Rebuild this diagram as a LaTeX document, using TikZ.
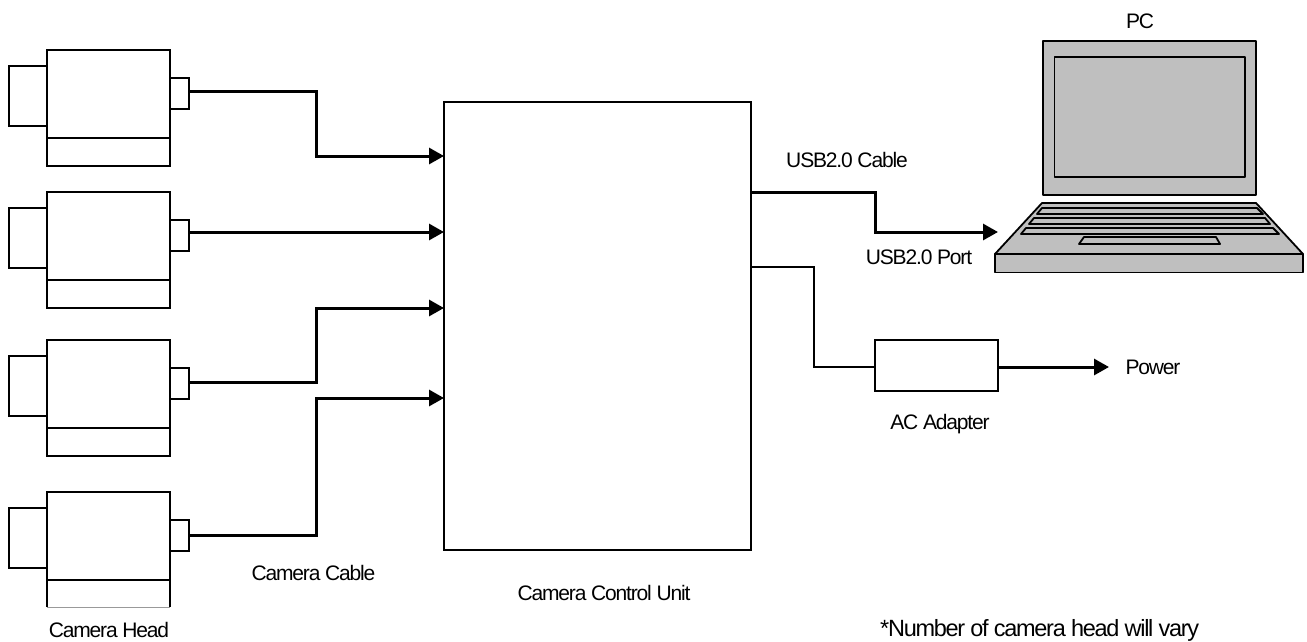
\documentclass[tikz,border=0pt]{standalone}
\usepackage{fontspec}
\setmainfont[LetterSpace=-5.5]{Liberation Sans}
\usetikzlibrary{arrows.meta}
\definecolor{lapgray}{HTML}{BFBFBF}
\tikzset{
	box/.style={draw=black, line width=2.2pt, fill=white, inner sep=0, outer sep=0},
	cable/.style={line width=3pt, black, -{Triangle[length=15pt,width=16pt]}},
	wire/.style={line width=2.2pt, black},
	lap/.style={draw=black, line width=1.8pt, fill=lapgray, line join=round},
	lbl/.style={font=\fontsize{21}{24}\selectfont, inner sep=0},
	notelbl/.style={font=\fontsize{23.5}{26}\selectfont, inner sep=0},
}
\begin{document}
\begin{tikzpicture}[x=1pt,y=-1pt]
	\useasboundingbox (0,0) rectangle (1307,641);
	% camera heads
	\foreach \n/\y in {1/50,2/192,3/340,4/492}{
		\begin{scope}[shift={(0,\y)}]
			\node[box, minimum width=38, minimum height=60] (lens\n) at (28,46) {};
			\node[box, minimum width=19, minimum height=31] (plug\n) at (179.5,43.5) {};
			\node[box, minimum width=123, minimum height=88] (body\n) at (108.5,44) {};
		\end{scope}
	}
	\foreach \n in {1,2,3}{
		\draw[line width=2.2pt] (body\n.south west) -- ++(0,28) -- ++(123,0) -- (body\n.south east);
	}
	\coordinate (foot4a) at (47,607);
	\coordinate (foot4b) at (170,607);
	\draw[line width=2.2pt] (body4.south west) -- (foot4a);
	\draw[line width=2.2pt] (body4.south east) -- (foot4b);
	\draw[line width=.7pt, black!40] (foot4a) -- (foot4b);
	% control unit
	\node[box, minimum width=307, minimum height=448] (unit) at (597.5,326) {};
	\coordinate (out1) at (189,91);
	\coordinate (out2) at (189,232);
	\coordinate (out3) at (189,382);
	\coordinate (out4) at (189,535);
	\coordinate (in1) at (444,156);
	\coordinate (in2) at (444,232);
	\coordinate (in3) at (444,308);
	\coordinate (in4) at (444,398);
	\draw[cable] (out1) -| (316,156) -- (in1);
	\draw[cable] (out2) -- (in2);
	\draw[cable] (out3) -| (316,308) -- (in3);
	\draw[cable] (out4) -| (316,398) -- (in4);
	% laptop
	\draw[lap] (1043,41) rectangle (1256,195);
	\draw[lap] (1054.5,57) rectangle (1245,177);
	\draw[lap] (1042,203) -- (1256,203) -- (1303,254) -- (995,254) -- cycle;
	\draw[lap] (995,254) rectangle (1303,272.5);
	\draw[lap] (1042,208) -- (1257,208) -- (1263,214) -- (1037,214) -- cycle;
	\draw[lap] (1034,218) -- (1265,218) -- (1270,224) -- (1029,224) -- cycle;
	\draw[lap] (1026,228) -- (1273,228) -- (1279,234) -- (1021,234) -- cycle;
	\draw[lap] (1084,237) -- (1216,237) -- (1220,244) -- (1079,244) -- cycle;
	\coordinate (usbout) at (751,192);
	\coordinate (usbin) at (998,232);
	\draw[cable] (usbout) -| (875,232) -- (usbin);
	% adapter
	\node[box, minimum width=123, minimum height=51] (adapter) at (936.5,365.5) {};
	\coordinate (dcout) at (751,267);
	\coordinate (powerend) at (1109,367);
	\draw[wire] (dcout) -| (814,367) -- (adapter.west |- 0,367);
	\draw[cable] (adapter.east |- 0,367) -- (powerend);
	% labels
	\node[lbl] (pclabel) at (1140,21) {PC};
	\node[lbl] (usbcable) at (847,160) {USB2.0 Cable};
	\node[lbl] (usbport) at (919,257) {USB2.0 Port};
	\node[lbl] (power) at (1153,367) {Power};
	\node[lbl] (adapterlabel) at (940,424) {AC Adapter};
	\node[lbl] (headlabel) at (109,630) {Camera Head};
	\node[lbl] (cablelabel) at (313.5,573) {Camera Cable};
	\node[lbl] (unitlabel) at (604,593) {Camera Control Unit};
	\node[notelbl, anchor=west] (note) at (880,630) {*Number of camera head will vary};
\end{tikzpicture}
\end{document}
